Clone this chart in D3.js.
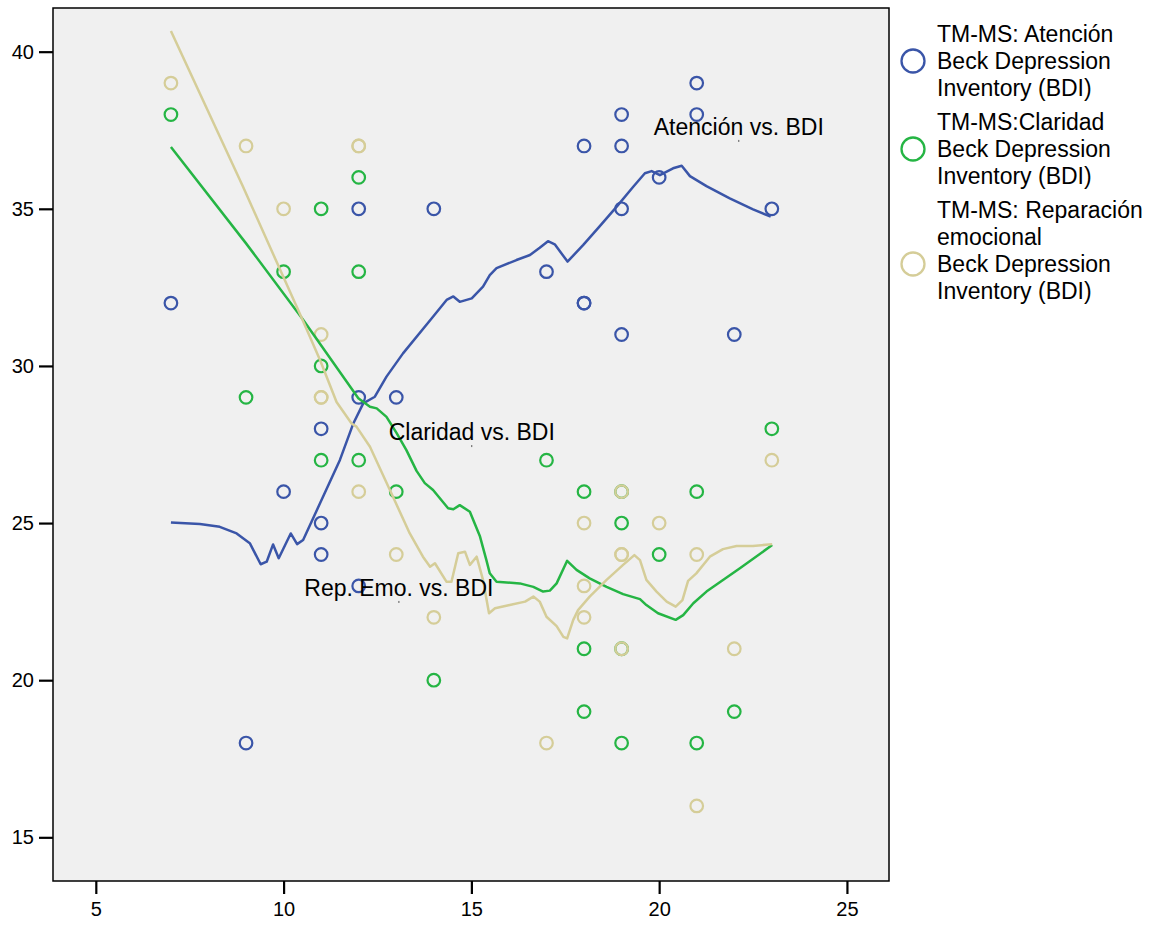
<!DOCTYPE html>
<html>
<head>
<meta charset="utf-8">
<script src="https://cdn.jsdelivr.net/npm/d3@7"></script>
<style>
  body { margin: 0; background: #fff; }
  svg { font-family: "Liberation Sans", Arial, sans-serif; }
</style>
</head>
<body>
<div id="chart"></div>
<script>
// scatter points: [BDI, score]
const atencionPts = [[7,32],[9,18],[10,26],[11,28],[11,25],[11,24],[12,35],[12,29],[12,23],[13,29],[14,35],
  [17,33],[18,37],[18,32],[18,32],[19,38],[19,37],[19,35],[19,31],[20,36],[21,39],[21,38],[22,31],[23,35]];
const claridadPts = [[7,38],[9,29],[10,33],[11,35],[11,30],[11,27],[12,36],[12,33],[12,27],[13,26],[14,20],
  [17,27],[18,26],[18,21],[18,19],[19,26],[19,25],[19,21],[19,18],[20,24],[21,26],[21,18],[22,19],[23,28]];
const reparacionPts = [[7,39],[9,37],[10,35],[11,31],[11,29],[11,29],[12,37],[12,37],[12,26],[13,24],[14,22],
  [17,18],[18,25],[18,23],[18,22],[19,26],[19,24],[19,24],[19,21],[20,25],[21,24],[21,16],[22,21],[23,27]];

// fit lines
const atencionFit = [[7.0,25.02],[7.77,24.97],[8.3,24.88],[8.75,24.67],[9.1,24.36],[9.39,23.69],[9.55,23.77],
  [9.72,24.32],[9.87,23.88],[10.19,24.67],[10.36,24.33],[10.52,24.46],[10.97,25.63],[11.5,27.01],[11.85,28.15],
  [12.12,28.81],[12.43,29.02],[12.74,29.66],[13.18,30.4],[13.94,31.51],[14.34,32.1],[14.52,32.21],[14.69,32.04],
  [15.01,32.15],[15.31,32.52],[15.49,32.89],[15.67,33.11],[16.2,33.37],[16.56,33.53],[16.82,33.76],[17.04,33.97],
  [17.22,33.87],[17.56,33.32],[17.98,33.85],[18.42,34.45],[18.87,35.07],[19.31,35.7],[19.62,36.13],[19.8,36.2],
  [20.02,36.07],[20.37,36.29],[20.6,36.37],[20.82,36.04],[21.26,35.72],[21.88,35.33],[22.5,34.98],[22.97,34.75]];
const claridadFit = [[7.0,36.97],[9.0,33.9],[10.5,31.5],[11.99,28.97],[12.3,28.7],[12.48,28.65],[12.74,28.38],
  [13.01,27.86],[13.27,27.32],[13.54,26.66],[13.76,26.27],[13.98,26.05],[14.38,25.47],[14.52,25.44],[14.69,25.57],
  [14.96,25.36],[15.23,24.57],[15.4,23.82],[15.49,23.4],[15.67,23.13],[16.29,23.08],[16.65,22.97],[16.91,22.82],
  [17.09,22.85],[17.27,23.08],[17.55,23.8],[17.8,23.51],[18.15,23.24],[18.6,22.97],[19.04,22.74],[19.49,22.58],
  [19.66,22.39],[19.97,22.13],[20.44,21.92],[20.64,22.07],[20.91,22.45],[21.26,22.82],[22.15,23.56],[23.01,24.3]];
const reparacionFit = [[7.0,40.66],[8.92,35.7],[10.43,31.67],[10.97,30.19],[11.41,28.85],[11.81,28.17],[11.94,28.07],
  [12.3,27.43],[12.83,26.05],[13.36,24.67],[13.71,23.93],[13.9,23.61],[14.03,23.72],[14.34,23.13],[14.47,23.13],
  [14.65,24.04],[14.83,24.09],[14.96,23.67],[15.14,23.93],[15.31,23.19],[15.47,22.13],[15.63,22.29],[16.02,22.39],
  [16.43,22.5],[16.65,22.66],[16.82,22.5],[17.0,22.02],[17.27,21.72],[17.45,21.38],[17.55,21.33],[17.71,21.91],
  [17.84,22.23],[18.15,22.66],[18.6,23.19],[19.04,23.67],[19.34,23.98],[19.49,23.82],[19.66,23.19],[19.93,22.82],
  [20.2,22.5],[20.44,22.34],[20.62,22.55],[20.77,23.16],[20.99,23.4],[21.35,23.93],[21.7,24.17],[22.06,24.27],
  [22.5,24.27],[23.01,24.33]];

const xTicks = [5, 10, 15, 20, 25];
const yTicks = [15, 20, 25, 30, 35, 40];

const seriesColors = ['#3a55a8', '#25b544', '#d5cd98'];
const legendLines = [
  ['TM-MS: Atención', 'Beck Depression', 'Inventory (BDI)'],
  ['TM-MS:Claridad', 'Beck Depression', 'Inventory (BDI)'],
  ['TM-MS: Reparación', 'emocional', 'Beck Depression', 'Inventory (BDI)']
];
// label anchor = small dot under each fit label
const fitLabels = [
  { text: 'Atención vs. BDI', x: 22.12, y: 37.16 },
  { text: 'Claridad vs. BDI', x: 15.01, y: 27.45 },
  { text: 'Rep. Emo. vs. BDI', x: 13.07, y: 22.49 }
];

const width = 1155, height = 929;
const plot = { left: 53, top: 8, right: 889, bottom: 881 };

const svg = d3.select('#chart').append('svg')
  .attr('width', width).attr('height', height);

const x = d3.scaleLinear().domain([3.86, 26.12]).range([plot.left, plot.right]);
const y = d3.scaleLinear().domain([13.61, 41.39]).range([plot.bottom, plot.top]);

// plot background
svg.append('rect')
  .attr('x', plot.left).attr('y', plot.top)
  .attr('width', plot.right - plot.left).attr('height', plot.bottom - plot.top)
  .attr('fill', '#f0f0f0');

// axes
const xAxis = svg.append('g')
  .attr('transform', `translate(0,${plot.bottom})`)
  .call(d3.axisBottom(x).tickValues(xTicks).tickSize(13).tickPadding(8));
const yAxis = svg.append('g')
  .attr('transform', `translate(${plot.left},0)`)
  .call(d3.axisLeft(y).tickValues(yTicks).tickSize(14).tickPadding(5));
[xAxis, yAxis].forEach(g => {
  g.select('.domain').remove();
  g.selectAll('line').attr('stroke', '#000').attr('stroke-width', 2.2);
  g.selectAll('text').attr('fill', '#000').style('font-size', '20px')
    .style('font-family', '"Liberation Sans", Arial, sans-serif');
});

// frame
svg.append('rect')
  .attr('x', plot.left).attr('y', plot.top)
  .attr('width', plot.right - plot.left).attr('height', plot.bottom - plot.top)
  .attr('fill', 'none').attr('stroke', '#000').attr('stroke-width', 1.5);

// points
const pointSets = [atencionPts, claridadPts, reparacionPts];
pointSets.forEach((pts, i) => {
  svg.append('g').selectAll('circle')
    .data(pts)
    .join('circle')
    .attr('cx', d => x(d[0]))
    .attr('cy', d => y(d[1]))
    .attr('r', 6.3)
    .attr('fill', 'none')
    .attr('stroke', seriesColors[i])
    .attr('stroke-width', 2.2);
});

// fit lines
const line = d3.line().x(d => x(d[0])).y(d => y(d[1]));
[atencionFit, claridadFit, reparacionFit].forEach((fit, i) => {
  svg.append('path')
    .datum(fit)
    .attr('d', line)
    .attr('fill', 'none')
    .attr('stroke', seriesColors[i])
    .attr('stroke-width', 2.5)
    .attr('stroke-linejoin', 'round');
});

// fit labels with their small anchor dot
fitLabels.forEach(l => {
  svg.append('rect')
    .attr('x', x(l.x) - 0.5).attr('y', y(l.y) - 1)
    .attr('width', 1).attr('height', 2).attr('fill', '#555');
  svg.append('text')
    .attr('x', x(l.x)).attr('y', y(l.y) - 6)
    .attr('text-anchor', 'middle')
    .style('font-size', '23px')
    .attr('fill', '#000')
    .text(l.text);
});

// legend
const legend = svg.append('g');
const lineGap = 27;
let ly = 34;
legendLines.forEach((lines, i) => {
  const cy = lines.length === 4 ? ly + 2 * lineGap : ly + lineGap;
  legend.append('circle')
    .attr('cx', 913).attr('cy', cy)
    .attr('r', 11.5)
    .attr('fill', 'none')
    .attr('stroke', seriesColors[i])
    .attr('stroke-width', 2.3);
  lines.forEach((t, j) => {
    legend.append('text')
      .attr('x', 937).attr('y', ly + j * lineGap)
      .attr('dy', '0.35em')
      .style('font-size', '23px')
      .attr('fill', '#000')
      .text(t);
  });
  ly += lines.length * lineGap + 7;
});
</script>
</body>
</html>
